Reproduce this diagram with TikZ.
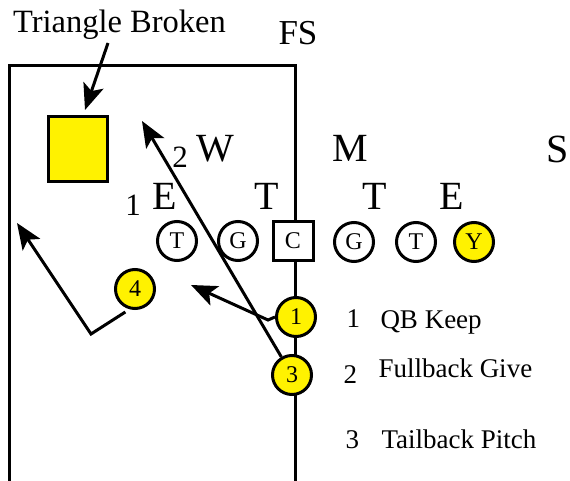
\documentclass[tikz,border=0pt]{standalone}
\usepackage{fontspec}
\setmainfont{Liberation Serif}
\usetikzlibrary{arrows.meta,positioning}
\begin{document}
\begin{tikzpicture}[x=1pt,y=-1pt,line width=3pt,>={Stealth[length=26pt,width=21pt,inset=6pt]}]
  \tikzstyle{player}=[draw,circle,fill=white,minimum size=39pt,inner sep=0pt,font=\fontsize{24}{24}\selectfont]
  \tikzstyle{back}=[player,fill=yellow]
  \tikzstyle{defender}=[anchor=base,inner sep=0pt,font=\fontsize{40}{40}\selectfont]
  \tikzstyle{gap}=[anchor=base,inner sep=0pt,font=\fontsize{31}{31}\selectfont]
  \tikzstyle{legend}=[anchor=base west,inner sep=0pt,font=\fontsize{27}{27}\selectfont]
  \useasboundingbox (0,0) rectangle (570,481);
  % field
  \draw (9,481) -- (9,66) -- (295,66) -- (295,481);
  \node[anchor=base,inner sep=0pt,font=\fontsize{32.5}{32.5}\selectfont] (broken) at (119.5,33) {Triangle Broken};
  \node[anchor=base,inner sep=0pt,font=\fontsize{35}{35}\selectfont] (fs) at (298,45) {FS};
  \node[draw,fill=yellow,minimum width=59pt,minimum height=65pt] (tri) at (77.5,149.5) {};
  % defense
  \node[defender] (w) at (215,162) {W};
  \node[defender] (m) at (350,162) {M};
  \node[defender] (s) at (558,163) {S};
  \node[defender] (le) at (165,210) {E};
  \node[defender] (lt) at (267,209) {T};
  \node[defender] (rt) at (375,210) {T};
  \node[defender] (re) at (452,210) {E};
  \node[gap] (g1) at (133,215) {1};
  \node[gap] (g2) at (180,168) {2};
  % offense
  \node[player] (ot1) at (177,241) {T};
  \node[player] (og1) at (238,241) {G};
  \node[draw,fill=white,minimum width=40pt,minimum height=39pt,inner sep=0pt,font=\fontsize{24}{24}\selectfont] (oc) at (293,241) {C};
  \node[player] (og2) at (354,242) {G};
  \node[player] (ot2) at (416,242) {T};
  \node[back] (y) at (474,242) {Y};
  \node[back] (p1) at (296,317) {1};
  \node[back] (p3) at (292,375) {3};
  \node[back] (p4) at (135,289) {4};
  % routes
  \coordinate (brokentail) at (108,43);
  \coordinate (brokentip) at (85,110);
  \coordinate (keepbend) at (268,320);
  \coordinate (keeptip) at (191,285);
  \coordinate (givetip) at (142,121);
  \coordinate (pitchbend) at (91,334);
  \coordinate (pitchtip) at (17,223);
  \draw[->] (brokentail) -- (brokentip);
  \draw[->] (p3) -- (givetip);
  \draw[->] (p1.west) -- (keepbend) -- (keeptip);
  \draw[->,shorten <=5pt] (p4.255) -- (pitchbend) -- (pitchtip);
  % legend
  \node[legend] (n1) at (345,327) {1};
  \node[legend] (l1) at (379,328) {QB Keep};
  \node[legend] (n2) at (342,383) {2};
  \node[legend] (l2) at (377,377) {Fullback Give};
  \node[legend] (n3) at (344,448) {3};
  \node[legend] (l3) at (380,448) {Tailback Pitch};
\end{tikzpicture}
\end{document}
